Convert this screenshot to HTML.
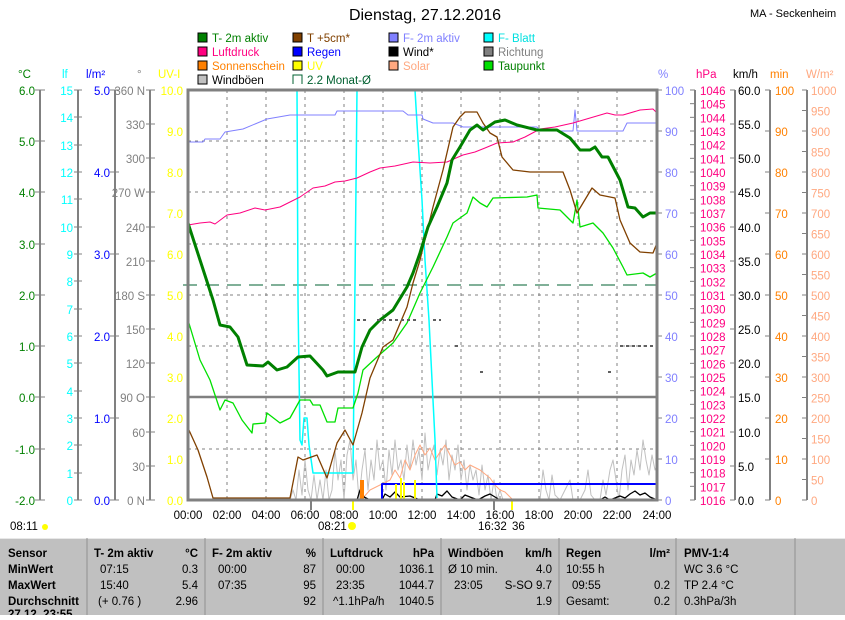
<!DOCTYPE html>
<html><head><meta charset="utf-8"><style>
body{margin:0;background:#fff;width:845px;height:615px;overflow:hidden;font-family:"Liberation Sans",sans-serif}
svg text{font-family:"Liberation Sans",sans-serif;font-size:11.5px}
</style></head><body>
<svg width="845" height="615" xmlns="http://www.w3.org/2000/svg">
<text x="425" y="20" text-anchor="middle" style="font-size:16px">Dienstag, 27.12.2016</text>
<text x="750" y="17" style="font-size:11px">MA - Seckenheim</text>
<g style="font-size:12px">
<rect x="198" y="33" width="9" height="9" fill="#008000" stroke="#000"/><text x="212" y="42" fill="#008000">T- 2m aktiv</text>
<rect x="198" y="47" width="9" height="9" fill="#ff0080" stroke="#000"/><text x="212" y="56" fill="#ff0080">Luftdruck</text>
<rect x="198" y="61" width="9" height="9" fill="#ff8000" stroke="#000"/><text x="212" y="70" fill="#ff8000">Sonnenschein</text>
<rect x="198" y="75" width="9" height="9" fill="#c0c0c0" stroke="#000"/><text x="212" y="84" fill="#000">Windböen</text>
<rect x="293" y="33" width="9" height="9" fill="#804000" stroke="#000"/><text x="307" y="42" fill="#804000">T +5cm*</text>
<rect x="293" y="47" width="9" height="9" fill="#0000ff" stroke="#000"/><text x="307" y="56" fill="#0000ff">Regen</text>
<rect x="293" y="61" width="9" height="9" fill="#ffff00" stroke="#000"/><text x="307" y="70" fill="#ffff00">UV</text>
<path d="M293 84V75h9v9" fill="none" stroke="#006030"/><text x="307" y="84" fill="#006030">2.2 Monat-Ø</text>
<rect x="389" y="33" width="9" height="9" fill="#8080ff" stroke="#000"/><text x="403" y="42" fill="#8080ff">F- 2m aktiv</text>
<rect x="389" y="47" width="9" height="9" fill="#000" stroke="#000"/><text x="403" y="56">Wind*</text>
<rect x="389" y="61" width="9" height="9" fill="#ffa880" stroke="#000"/><text x="403" y="70" fill="#ffa880">Solar</text>
<rect x="484" y="33" width="9" height="9" fill="#00ffff" stroke="#000"/><text x="498" y="42" fill="#00e0e0">F- Blatt</text>
<rect x="484" y="47" width="9" height="9" fill="#808080" stroke="#000"/><text x="498" y="56" fill="#808080">Richtung</text>
<rect x="484" y="61" width="9" height="9" fill="#00e000" stroke="#000"/><text x="498" y="70" fill="#008000">Taupunkt</text>
</g>
<text x="18" y="78" fill="#008000">°C</text><text x="62" y="78" fill="#00ffff">lf</text><text x="86" y="78" fill="#0000ff">l/m²</text><text x="137" y="78" fill="#808080">°</text><text x="158" y="78" fill="#ffff00">UV-I</text>
<text x="658" y="78" fill="#8080ff">%</text><text x="696" y="78" fill="#ff0080">hPa</text><text x="733" y="78" fill="#000">km/h</text><text x="770" y="78" fill="#ff8000">min</text><text x="806" y="78" fill="#ffa880">W/m²</text>
<g stroke="#808080" stroke-width="2">
<line x1="40" y1="90" x2="40" y2="500"/><line x1="78" y1="90" x2="78" y2="500"/><line x1="115" y1="90" x2="115" y2="500"/><line x1="150" y1="90" x2="150" y2="500"/>
<line x1="695" y1="90" x2="695" y2="500"/><line x1="735" y1="90" x2="735" y2="500"/><line x1="770" y1="90" x2="770" y2="500"/><line x1="807" y1="90" x2="807" y2="500"/>
</g>
<g text-anchor="end" fill="#008000">
<text x="35" y="95">6.0</text><text x="35" y="146">5.0</text><text x="35" y="197">4.0</text><text x="35" y="249">3.0</text><text x="35" y="300">2.0</text><text x="35" y="351">1.0</text><text x="35" y="402">0.0</text><text x="35" y="454">-1.0</text><text x="35" y="505">-2.0</text>
<path d="M35 90h10M35 141h10M35 192h10M35 244h10M35 295h10M35 346h10M35 397h10M35 449h10M35 500h10" stroke="#808080"/>
</g>
<g text-anchor="end" fill="#00ffff">
<text x="73" y="95">15</text><text x="73" y="122">14</text><text x="73" y="150">13</text><text x="73" y="177">12</text><text x="73" y="204">11</text><text x="73" y="232">10</text><text x="73" y="259">9</text><text x="73" y="286">8</text><text x="73" y="314">7</text><text x="73" y="341">6</text><text x="73" y="368">5</text><text x="73" y="396">4</text><text x="73" y="423">3</text><text x="73" y="450">2</text><text x="73" y="478">1</text><text x="73" y="505">0</text>
<path d="M74 90h8M74 117h8M74 145h8M74 172h8M74 199h8M74 227h8M74 254h8M74 281h8M74 309h8M74 336h8M74 363h8M74 391h8M74 418h8M74 445h8M74 473h8M74 500h8" stroke="#808080"/>
</g>
<g text-anchor="end" fill="#0000ff">
<text x="110" y="95">5.0</text><text x="110" y="177">4.0</text><text x="110" y="259">3.0</text><text x="110" y="341">2.0</text><text x="110" y="423">1.0</text><text x="110" y="505">0.0</text>
<path d="M110 90h9M110 172h9M110 254h9M110 336h9M110 418h9M110 500h9" stroke="#808080"/>
</g>
<g text-anchor="end" fill="#808080">
<text x="145" y="95">360 N</text><text x="145" y="129">330</text><text x="145" y="163">300</text><text x="145" y="197">270 W</text><text x="145" y="232">240</text><text x="145" y="266">210</text><text x="145" y="300">180 S</text><text x="145" y="334">150</text><text x="145" y="368">120</text><text x="145" y="402">90 O</text><text x="145" y="437">60</text><text x="145" y="471">30</text><text x="145" y="505">0 N</text>
<path d="M146 90h9M146 124h9M146 158h9M146 192h9M146 227h9M146 261h9M146 295h9M146 329h9M146 363h9M146 397h9M146 432h9M146 466h9M146 500h9" stroke="#808080"/>
</g>
<g text-anchor="end" fill="#ffff00">
<text x="183" y="95">10.0</text><text x="183" y="136">9.0</text><text x="183" y="177">8.0</text><text x="183" y="218">7.0</text><text x="183" y="259">6.0</text><text x="183" y="300">5.0</text><text x="183" y="341">4.0</text><text x="183" y="382">3.0</text><text x="183" y="423">2.0</text><text x="183" y="464">1.0</text><text x="183" y="505">0.0</text>
</g>
<g fill="#8080ff"><text x="665" y="95">100</text><text x="665" y="136">90</text><text x="665" y="177">80</text><text x="665" y="218">70</text><text x="665" y="259">60</text><text x="665" y="300">50</text><text x="665" y="341">40</text><text x="665" y="382">30</text><text x="665" y="423">20</text><text x="665" y="464">10</text><text x="665" y="505">0</text>
<path d="M657 90h5M657 131h5M657 172h5M657 213h5M657 254h5M657 295h5M657 336h5M657 377h5M657 418h5M657 459h5M657 500h5" stroke="#808080"/></g>
<g fill="#ff0080" id="hpa"></g>
<g fill="#000"><text x="738" y="95">60.0</text><text x="738" y="129">55.0</text><text x="738" y="163">50.0</text><text x="738" y="197">45.0</text><text x="738" y="232">40.0</text><text x="738" y="266">35.0</text><text x="738" y="300">30.0</text><text x="738" y="334">25.0</text><text x="738" y="368">20.0</text><text x="738" y="402">15.0</text><text x="738" y="437">10.0</text><text x="738" y="471">5.0</text><text x="738" y="505">0.0</text>
<path d="M730 90h5M730 124h5M730 158h5M730 192h5M730 227h5M730 261h5M730 295h5M730 329h5M730 363h5M730 397h5M730 432h5M730 466h5M730 500h5" stroke="#808080"/></g>
<g fill="#ff8000"><text x="775" y="95">100</text><text x="775" y="136">90</text><text x="775" y="177">80</text><text x="775" y="218">70</text><text x="775" y="259">60</text><text x="775" y="300">50</text><text x="775" y="341">40</text><text x="775" y="382">30</text><text x="775" y="423">20</text><text x="775" y="464">10</text><text x="775" y="505">0</text>
<path d="M765 90h5M765 131h5M765 172h5M765 213h5M765 254h5M765 295h5M765 336h5M765 377h5M765 418h5M765 459h5M765 500h5" stroke="#808080"/></g>
<g fill="#ffa880" id="wm"></g>
<g stroke="#808080" stroke-dasharray="3,4" stroke-width="1">
<path d="M227 90V500M266 90V500M305 90V500M344 90V500M383 90V500M422 90V500M461 90V500M500 90V500M539 90V500M578 90V500M617 90V500"/>
<path d="M188 141H657M188 192H657M188 244H657M188 295H657M188 346H657M188 449H657"/>
</g>
<line x1="188" y1="397" x2="657" y2="397" stroke="#808080" stroke-width="2.5"/>
<line x1="183" y1="285" x2="657" y2="285" stroke="#006030" stroke-dasharray="14,8"/>
<g fill="none" stroke-linejoin="round">
<polyline stroke="#c0c0c0" points="290,500 293,490 296,500 299,470 302,495 305,460 308,490 311,500 314,475 317,500 320,480 323,500 326,470 329,500 332,490 335,450 338,480 341,460 344,500 347,455 350,440 353,480 356,460 359,500 362,470 365,450 368,490 371,460 374,480 377,440 380,470 383,460 386,490 389,450 392,475 395,440 398,470 401,460 404,480 407,445 410,470 413,440 416,465 419,450 422,480 425,433 428,470 431,455 434,445 437,475 440,450 443,465 446,440 449,480 452,455 455,470 458,445 461,480 464,460 467,490 470,465 473,480 476,470 479,495 482,465 485,490 488,475 491,500 494,480 497,500 500,490 503,500 510,500 540,500 543,470 546,490 549,500 552,475 555,495 560,500 570,480 573,500 580,500 585,490 588,470 591,495 595,500 600,500 603,480 606,495 610,470 613,460 616,480 619,500 622,470 625,455 628,490 631,460 634,475 637,450 640,470 643,440 646,460 649,475 652,455 655,470 657,465"/>
<polyline stroke="#ffa880" points="363,498 370,490 380,485 390,480 395,470 400,478 405,460 410,470 415,455 420,445 425,455 430,448 435,460 440,452 445,445 450,455 455,465 460,462 465,470 470,465 480,470 490,478 495,485 500,490 505,492 510,497 513,500"/>
<polyline stroke="#000" stroke-width="1.3" points="188,500 357,500 360,490 364,497 370,500 382,500 385,494 390,497 395,492 400,497 410,496 420,500 435,500 437,494 442,496 447,491 452,497 460,500 465,495 470,497 478,500 485,496 490,494 495,497 500,500 600,500 605,497 610,500 620,496 625,498 630,494 635,491 640,495 645,493 650,497 657,500"/>
<polyline stroke="#0000ff" stroke-width="2" points="382,500 382,484 657,484"/>
<polyline stroke="#ff8000" stroke-width="1.5" points="188,500 657,500"/>
<polyline stroke="#00ffff" stroke-width="1.5" points="188,90 297,90 298,300 300,440 302,445 304,418 307,418 309,445 313,473 353,473 357,90 415,90 418,140 422,200 425,260 429,320 432,380 435,440 437,498"/>
<polyline stroke="#8080ff" points="188,142 203,142 205,139 220,139 225,132 243,129 267,119 290,115 335,115 337,111 403,111 408,115 422,115 423,119 433,123 453,123 463,127 537,127 540,131 573,131 575,110 577,131 623,131 627,123 657,123"/>
<polyline stroke="#ff0080" points="188,225 200,223 210,222 215,224 227,215 240,213 255,208 265,210 280,207 290,202 300,197 313,188 325,186 335,182 345,181 357,178 370,172 380,168 395,166 413,162 430,163 447,162 456,158 463,155 475,152 485,148 497,143 513,142 525,137 540,129 555,127 573,123 590,118 607,113 615,115 623,115 640,110 653,109 657,113"/>
<polyline stroke="#00e000" stroke-width="1.3" points="188,320 200,360 210,380 220,410 225,400 233,403 242,420 252,433 253,424 265,423 267,413 280,423 290,418 300,400 310,400 313,405 320,405 327,422 335,422 338,408 353,408 358,393 363,370 377,357 393,343 407,323 420,293 433,267 447,237 453,223 467,213 473,197 480,203 487,207 493,198 527,197 537,195 538,208 560,210 573,223 577,200 580,227 593,223 603,233 613,248 623,267 627,275 643,273 650,277 657,273"/>
<polyline stroke="#804000" stroke-width="1.3" points="188,428 198,450 207,477 213,498 290,498 298,457 303,460 317,455 327,478 337,443 345,430 353,445 362,413 370,378 383,347 393,340 407,307 413,283 420,260 433,207 443,170 453,127 460,117 465,112 477,112 483,123 490,133 497,137 502,157 513,170 530,172 563,172 570,190 577,213 583,203 592,188 600,195 615,198 620,220 630,243 640,252 653,253 657,243"/>
<polyline stroke="#008000" stroke-width="3" points="188,223 200,260 213,300 220,325 230,327 238,337 247,365 263,366 268,362 277,370 287,367 298,357 310,356 323,370 327,376 338,372 355,372 362,347 370,330 380,320 393,310 407,287 413,273 420,253 428,227 437,207 447,183 452,160 460,147 470,130 477,125 483,130 495,122 505,120 517,125 537,130 557,130 570,138 580,150 590,150 595,147 602,157 608,157 620,180 628,207 635,208 643,217 650,213 657,213"/>
</g>
<g stroke="#606060" stroke-width="2" stroke-dasharray="3,3">
<path d="M357 320h10M377 320h40M433 320h8M455 346h6M480 372h6M620 346h35M608 372h4"/>
</g>
<rect x="360" y="480" width="4" height="20" fill="#ff8000"/>
<g fill="#ffff00"><rect x="395" y="484" width="2" height="16"/><rect x="400" y="478" width="2" height="22"/><rect x="403" y="482" width="2" height="18"/><rect x="414" y="480" width="2" height="20"/><rect x="352" y="500" width="2" height="10"/><rect x="511" y="500" width="2" height="10"/></g>
<rect x="188" y="90" width="469" height="410" fill="none" stroke="#808080" stroke-width="3"/>
<path d="M311 500v10M494 500v10" stroke="#808080" stroke-width="2"/>
<g text-anchor="middle" style="font-size:11px">
<text x="188" y="519">00:00</text><text x="227" y="519">02:00</text><text x="266" y="519">04:00</text><text x="305" y="519">06:00</text><text x="344" y="519">08:00</text><text x="383" y="519">10:00</text><text x="422" y="519">12:00</text><text x="461" y="519">14:00</text><text x="500" y="519">16:00</text><text x="539" y="519">18:00</text><text x="578" y="519">20:00</text><text x="617" y="519">22:00</text><text x="657" y="519">24:00</text>
</g>
<g style="font-size:11px"><text x="10" y="530">08:11</text><circle cx="45" cy="527" r="3" fill="#ffff00"/><text x="318" y="530">08:21</text><circle cx="352" cy="526" r="4" fill="#ffff00"/><text x="478" y="530">16:32</text><text x="512" y="530">36</text></g>
<rect x="0" y="538" width="845" height="77" fill="#c0c0c0"/>
<line x1="0" y1="538.5" x2="845" y2="538.5" stroke="#e8e8e8"/>
<g stroke="#909090"><path d="M87 538v77M205 538v77M323 538v77M441 538v77M559 538v77M676 538v77M795 538v77"/></g>
<g style="font-size:12px;font-weight:bold">
<text x="8" y="557">Sensor</text><text x="8" y="573">MinWert</text><text x="8" y="589">MaxWert</text><text x="8" y="605">Durchschnitt</text><text x="8" y="618">27.12. 23:55</text>
<text x="94" y="557">T- 2m aktiv</text><text x="198" y="557" text-anchor="end">°C</text>
<text x="212" y="557">F- 2m aktiv</text><text x="316" y="557" text-anchor="end">%</text>
<text x="330" y="557">Luftdruck</text><text x="434" y="557" text-anchor="end">hPa</text>
<text x="448" y="557">Windböen</text><text x="552" y="557" text-anchor="end">km/h</text>
<text x="566" y="557">Regen</text><text x="670" y="557" text-anchor="end">l/m²</text>
<text x="684" y="557">PMV-1:4</text>
</g>
<g style="font-size:12px">
<text x="100" y="573">07:15</text><text x="198" y="573" text-anchor="end">0.3</text><text x="100" y="589">15:40</text><text x="198" y="589" text-anchor="end">5.4</text><text x="98" y="605">(+ 0.76 )</text><text x="198" y="605" text-anchor="end">2.96</text>
<text x="218" y="573">00:00</text><text x="316" y="573" text-anchor="end">87</text><text x="218" y="589">07:35</text><text x="316" y="589" text-anchor="end">95</text><text x="316" y="605" text-anchor="end">92</text>
<text x="336" y="573">00:00</text><text x="434" y="573" text-anchor="end">1036.1</text><text x="336" y="589">23:35</text><text x="434" y="589" text-anchor="end">1044.7</text><text x="333" y="605">^1.1hPa/h</text><text x="434" y="605" text-anchor="end">1040.5</text>
<text x="448" y="573">Ø 10 min.</text><text x="552" y="573" text-anchor="end">4.0</text><text x="454" y="589">23:05</text><text x="552" y="589" text-anchor="end">S-SO 9.7</text><text x="552" y="605" text-anchor="end">1.9</text>
<text x="566" y="573">10:55 h</text><text x="572" y="589">09:55</text><text x="670" y="589" text-anchor="end">0.2</text><text x="566" y="605">Gesamt:</text><text x="670" y="605" text-anchor="end">0.2</text>
<text x="684" y="573">WC 3.6 °C</text><text x="684" y="589">TP 2.4 °C</text><text x="684" y="605">0.3hPa/3h</text>
</g>
</svg>
<script>
var g=document.getElementById('hpa'),s='';
for(var i=0;i<=30;i++){var y=90+i*410/30;s+='<text x="700" y="'+(y+5)+'">'+(1046-i)+'</text><path d="M690 '+y+'h5" stroke="#808080"/>';}
g.innerHTML=s;
var w=document.getElementById('wm');s='';
for(var i=0;i<=20;i++){var y=90+i*20.5;s+='<text x="811" y="'+(y+5)+'">'+(1000-i*50)+'</text><path d="M802 '+y+'h5" stroke="#808080"/>';}
w.innerHTML=s;
</script>
</body></html>
